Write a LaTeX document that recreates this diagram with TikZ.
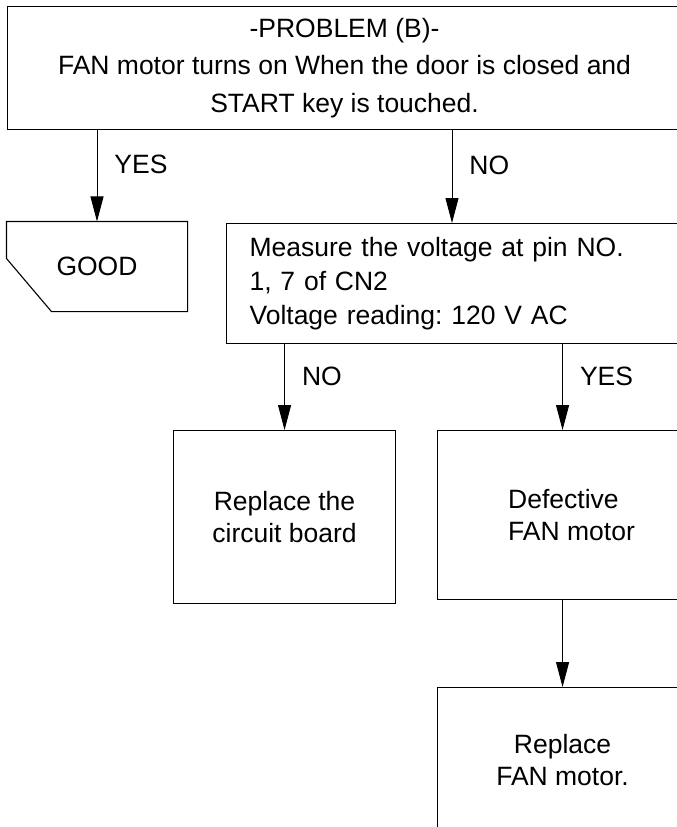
\documentclass[tikz,border=0pt]{standalone}
\usepackage{fontspec}
\setmainfont{Liberation Sans}
\usetikzlibrary{arrows.meta,positioning,calc}
\frenchspacing

\begin{document}
\begin{tikzpicture}[x=1pt,y=-1pt]
    \tikzset{box/.style = {shape=rectangle, draw, line width=1.1pt, inner sep=0pt, font=\fontsize{26.5}{32}\selectfont}}
    \tikzset{edge/.style = {-{Triangle[length=25pt,width=13pt]}, line width=0.9pt}}
    \tikzset{answer/.style = {right=15pt, pos=0.38, inner sep=2pt, font=\fontsize{26.5}{32}\selectfont}}

    \useasboundingbox (0,0) rectangle (677,827);
    \clip (0,0) rectangle (677,827);

    \node[box, anchor=north west, minimum width=674pt, minimum height=123pt, align=center, font=\fontsize{26.5}{37.5}\selectfont] (problem) at (7,6) {-PROBLEM (B)-\\FAN motor turns on When the door is closed and\\START key is touched.};

    \node[box, draw=none, minimum width=180pt, minimum height=89pt] (good) at (97,266.5) {GOOD};
    \draw[line width=1.1pt] (good.north west) -- (good.north east) -- (good.south east) -- ([xshift=45pt]good.south west) -- ([yshift=-37pt]good.north west) -- cycle;

    \node[box, anchor=north west, minimum height=120pt, text width=430pt, inner xsep=23pt, align=left, font=\fontsize{26.5}{34}\selectfont] (measure) at (226,223) {Measure the voltage at pin NO.\\1, 7 of CN2\\Voltage reading: 120 V AC};

    \node[box, anchor=north west, minimum width=222pt, minimum height=173pt, align=center] (replace) at (173,430) {Replace the\\circuit board};
    \node[box, anchor=north west, minimum width=268pt, minimum height=169pt, align=left] (defective) at (437,430) {Defective\\FAN motor};
    \node[box, anchor=north west, minimum width=250pt, minimum height=145pt, align=center] (fanrep) at (437,687) {Replace\\FAN motor.};

    \draw[edge] (good.north |- problem.south) -- node[answer] {YES} (good.north);
    \draw[edge] ([xshift=226pt]measure.north west |- problem.south) -- node[answer] {NO} ([xshift=226pt]measure.north west);

    \draw[edge] (replace.north |- measure.south) -- node[answer] {NO} (replace.north);
    \draw[edge] (fanrep.north |- measure.south) -- node[answer] {YES} (fanrep.north |- defective.north);
    \draw[edge] (fanrep.north |- defective.south) -- (fanrep.north);

\end{tikzpicture}
\end{document}
